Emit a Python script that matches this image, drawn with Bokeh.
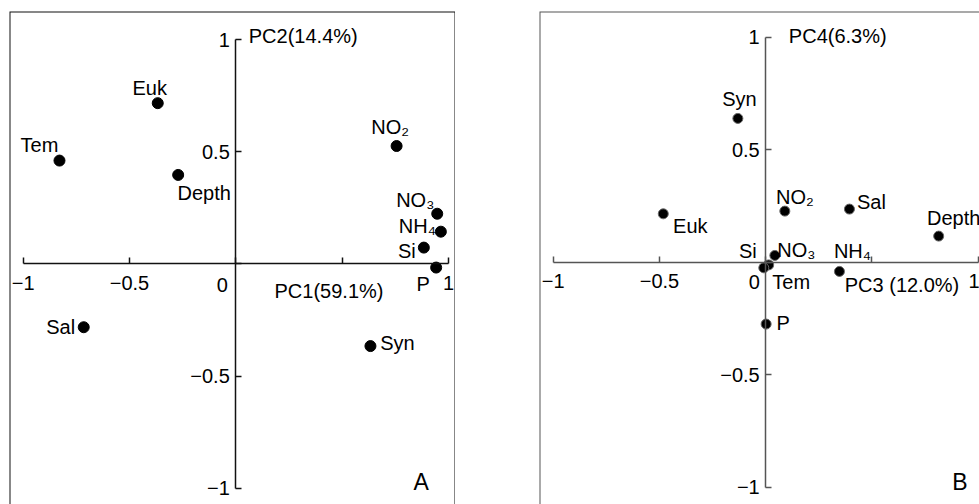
from bokeh.plotting import figure
from bokeh.layouts import row
from bokeh.models import ColumnDataSource, FixedTicker, Label, Range1d, BoxAnnotation
from bokeh.embed import file_html
from bokeh.resources import INLINE

# ---------------- data ----------------
variables = ["Euk", "Tem", "Depth", "NO₂", "NO₃", "NH₄", "Si", "P", "Sal", "Syn"]
pc1 = [-0.367, -0.829, -0.271, 0.756, 0.947, 0.964, 0.884, 0.942, -0.715, 0.633]
pc2 = [0.717, 0.461, 0.397, 0.526, 0.224, 0.144, 0.073, -0.016, -0.282, -0.366]
pc3 = [-0.482, 0.014, 0.814, 0.090, 0.043, 0.347, -0.009, 0.002, 0.394, -0.131]
pc4 = [0.215, -0.012, 0.116, 0.227, 0.030, -0.041, -0.025, -0.275, 0.236, 0.639]

tick_values = [-1, -0.5, 0, 0.5, 1]
x_tick_labels = ["−1", "−0.5", "", "", "1"]
y_tick_labels = ["−1", "−0.5", "", "0.5", "1"]

# ---------------- label placement (screen px, y down) ----------------
offsets_a = [(-8, -15), (-20, -16), (26, 18), (-6.5, -19.5), (-22, -14),
             (-23.5, -5.5), (-17, 3), (-13, 16.5), (-23, 0), (27, -3.5)]
offsets_b = [(27, 11.7), (22.5, 17.4), (15, -18), (10, -13.7), (21.5, -5),
             (13, -20), (-16, -17), (17, -1), (22, -7), (1.5, -19.7)]

FONT = "Liberation Sans"
FS = "20px"


def make_panel(xs, ys, offs, xr, yr, width, mb_left, mb_top, ink, dot_size,
               dot_line, xtitle, xtitle_pos, ytitle, ytitle_pos, letter, letter_pos,
               zero_pos, open_right):
    p = figure(width=width, height=504, output_backend="svg", toolbar_location=None,
               x_range=Range1d(*xr), y_range=Range1d(*yr),
               min_border_left=mb_left, min_border_right=0,
               min_border_top=mb_top, min_border_bottom=0)
    p.xgrid.visible = False
    p.ygrid.visible = False
    p.background_fill_color = "white"
    p.border_fill_color = "white"
    p.outline_line_color = None

    # panel frame: open at the bottom (and at the right for the cut-off panel)
    frame = BoxAnnotation(bottom=yr[0] - 1, fill_color=None, fill_alpha=0,
                          line_color=ink, line_width=2, line_alpha=1)
    if open_right:
        frame.right = xr[1] + 1
    p.add_layout(frame)

    for ax, labs in ((p.xaxis[0], x_tick_labels), (p.yaxis[0], y_tick_labels)):
        ax.fixed_location = 0
        ax.bounds = (-1, 1)
        ax.ticker = FixedTicker(ticks=tick_values)
        ax.minor_tick_line_color = None
        ax.major_tick_in = 6
        ax.major_tick_out = 0
        ax.axis_line_color = ink
        ax.axis_line_width = 1.5
        ax.major_tick_line_color = ink
        ax.major_tick_line_width = 1.5
        ax.major_label_text_font = FONT
        ax.major_label_text_font_size = FS
        ax.major_label_text_color = "black"
        ax.major_label_overrides = {float(v): l for v, l in zip(tick_values, labs)}
    p.xaxis.major_label_standoff = 12
    p.yaxis.major_label_standoff = 6

    src = ColumnDataSource(dict(x=xs, y=ys, name=variables,
                                dx=[o[0] for o in offs], dy=[o[1] for o in offs]))
    p.scatter("x", "y", source=src, size=dot_size, fill_color="black",
              line_color=dot_line, line_width=1)
    p.text("x", "y", text="name", source=src, x_offset="dx", y_offset="dy",
           text_align="center", text_baseline="middle",
           text_font={"value": FONT}, text_font_size={"value": FS},
           text_color="black")

    for txt, pos, align, size in ((xtitle, xtitle_pos, "left", FS),
                                  (ytitle, ytitle_pos, "left", FS),
                                  (letter, letter_pos, "center", "23px"),
                                  ("0", zero_pos, "center", FS)):
        p.add_layout(Label(x=pos[0], y=pos[1], text=txt, text_align=align,
                           text_baseline="middle", text_font=FONT,
                           text_font_size=size, text_color="black"))
    return p


pa = make_panel(pc1, pc2, offsets_a, (-1.064, 1.0329), (-1.0724, 1.1257), 455, 9, 9,
                "#111111", 11, "black",
                "PC1(59.1%)", (0.182, -0.119), "PC2(14.4%)", (0.061, 1.016),
                "A", (0.872, -0.973), (-0.064, -0.094), False)
pb = make_panel(pc3, pc4, offsets_b, (-1.0645, 1.0061), (-1.0769, 1.1142), 524, 84, 11,
                "#555555", 10, "#666666",
                "PC3 (12.0%)", (0.372, -0.101), "PC4(6.3%)", (0.109, 1.006),
                "B", (0.914, -0.976), (-0.054, -0.089), True)

layout = row(pa, pb)
open("out.html", "w").write(file_html(layout, INLINE))
